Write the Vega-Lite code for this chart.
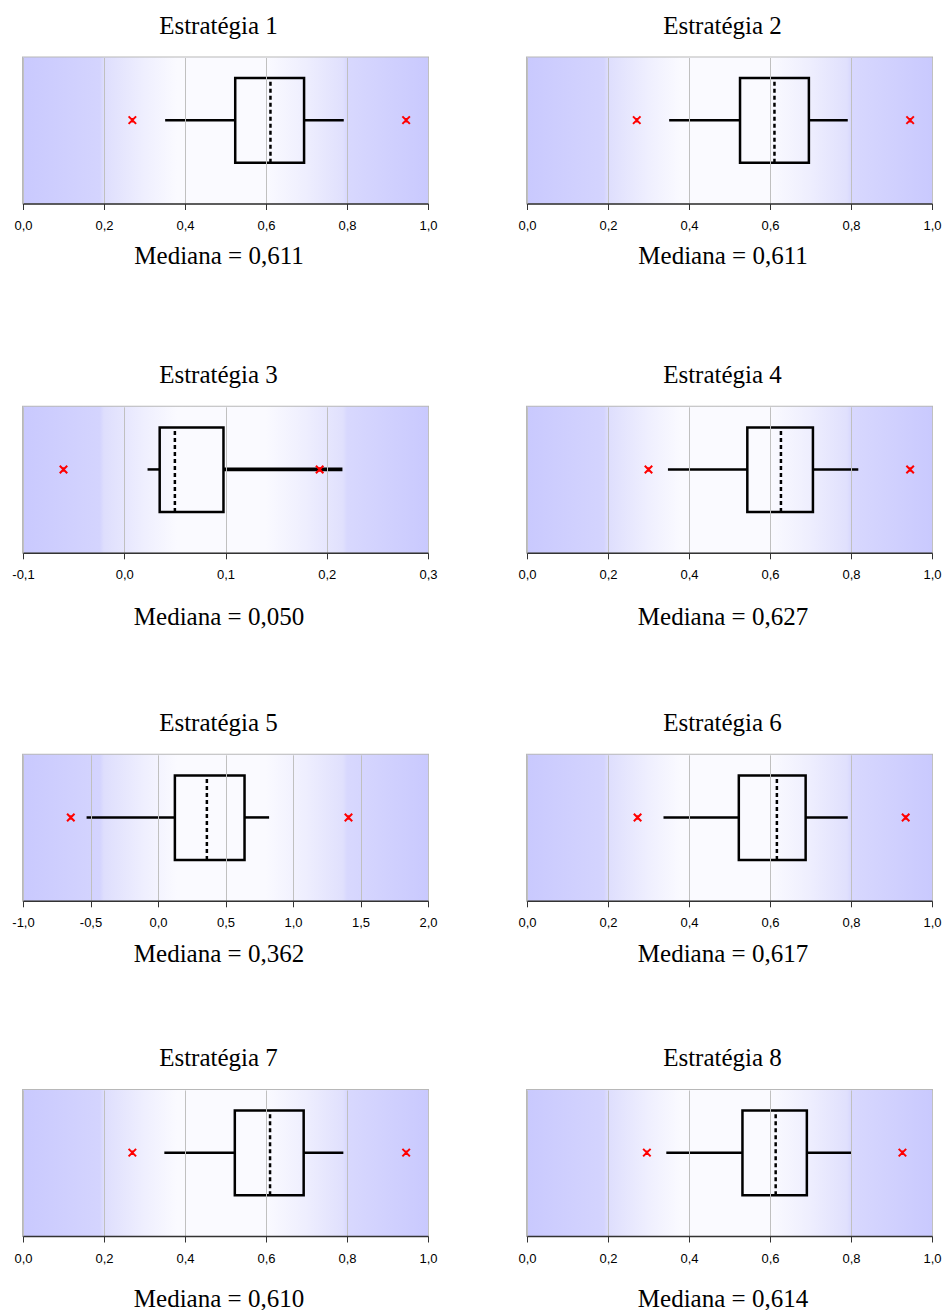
{
  "$schema": "https://vega.github.io/schema/vega-lite/v6.json",
  "padding": {"left": 10, "top": 12.5, "right": 0, "bottom": 0},
  "datasets": {
    "box": [
      {"p": 1, "lw": 0.351, "q1": 0.524, "med": 0.611, "q3": 0.694, "uw": 0.792},
      {"p": 2, "lw": 0.351, "q1": 0.526, "med": 0.611, "q3": 0.696, "uw": 0.792},
      {"p": 3, "lw": 0.023, "q1": 0.035, "med": 0.050, "q3": 0.098, "uw": 0.2155},
      {"p": 4, "lw": 0.348, "q1": 0.544, "med": 0.627, "q3": 0.706, "uw": 0.818},
      {"p": 5, "lw": -0.529, "q1": 0.125, "med": 0.362, "q3": 0.641, "uw": 0.823},
      {"p": 6, "lw": 0.337, "q1": 0.523, "med": 0.617, "q3": 0.688, "uw": 0.792},
      {"p": 7, "lw": 0.349, "q1": 0.523, "med": 0.610, "q3": 0.693, "uw": 0.791},
      {"p": 8, "lw": 0.344, "q1": 0.532, "med": 0.614, "q3": 0.691, "uw": 0.801}
    ],
    "out": [
      {"p": 1, "v": 0.270}, {"p": 1, "v": 0.946},
      {"p": 2, "v": 0.271}, {"p": 2, "v": 0.946},
      {"p": 3, "v": -0.060}, {"p": 3, "v": 0.193},
      {"p": 4, "v": 0.300}, {"p": 4, "v": 0.946},
      {"p": 5, "v": -0.646}, {"p": 5, "v": 1.411},
      {"p": 6, "v": 0.273}, {"p": 6, "v": 0.935},
      {"p": 7, "v": 0.270}, {"p": 7, "v": 0.946},
      {"p": 8, "v": 0.296}, {"p": 8, "v": 0.927}
    ]
  },
  "spacing": 77.5,
  "vconcat": [
    {
      "spacing": 78.3,
      "vconcat": [
        {
          "spacing": 92.3,
          "vconcat": [
            {
              "bounds": "flush",
              "spacing": 99,
              "hconcat": [
                {
                  "title": "Estratégia 1", "width": 405, "height": 146,
                  "data": {"name": "box"}, "transform": [{"filter": "datum.p == 1"}],
                  "layer": [
                    {"mark": {"type": "rect", "fill": {"gradient": "linear", "x1": 0, "y1": 0, "x2": 1, "y2": 0, "stops": [{"offset": 0, "color": "#c9c9fe"}, {"offset": 0.19, "color": "#d4d4fe"}, {"offset": 0.2, "color": "#dedefd"}, {"offset": 0.3, "color": "#efeffe"}, {"offset": 0.38, "color": "#fafaff"}, {"offset": 0.6, "color": "#fafaff"}, {"offset": 0.7, "color": "#eeeefe"}, {"offset": 0.79, "color": "#e0e0fd"}, {"offset": 0.8, "color": "#d8d8fe"}, {"offset": 1, "color": "#c9c9fe"}]}},
                     "encoding": {"x": {"datum": 0, "type": "quantitative", "scale": {"domain": [0, 1]}, "axis": {"values": [0, 0.2, 0.4, 0.6, 0.8, 1], "title": "Mediana = 0,611", "titleY": 59.5, "zindex": 1}}, "x2": {"datum": 1}, "y": {"datum": 0, "type": "quantitative", "scale": {"domain": [0, 1]}, "axis": null}, "y2": {"datum": 1}}},
                    {"mark": {"type": "rule", "stroke": "#000", "strokeWidth": 2.5}, "encoding": {"x": {"field": "lw", "type": "quantitative", "scale": {"domain": [0, 1]}, "axis": {"values": [0, 0.2, 0.4, 0.6, 0.8, 1], "title": "Mediana = 0,611", "titleY": 59.5, "zindex": 1}}, "x2": {"field": "q1"}, "y": {"datum": 0.571, "type": "quantitative", "scale": {"domain": [0, 1]}, "axis": null}}},
                    {"mark": {"type": "rule", "stroke": "#000", "strokeWidth": 2.5}, "encoding": {"x": {"field": "q3", "type": "quantitative", "scale": {"domain": [0, 1]}, "axis": {"values": [0, 0.2, 0.4, 0.6, 0.8, 1], "title": "Mediana = 0,611", "titleY": 59.5, "zindex": 1}}, "x2": {"field": "uw"}, "y": {"datum": 0.571, "type": "quantitative", "scale": {"domain": [0, 1]}, "axis": null}}},
                    {"mark": {"type": "rect", "fill": "transparent", "stroke": "#000", "strokeWidth": 2.5}, "encoding": {"x": {"field": "q1", "type": "quantitative", "scale": {"domain": [0, 1]}, "axis": {"values": [0, 0.2, 0.4, 0.6, 0.8, 1], "title": "Mediana = 0,611", "titleY": 59.5, "zindex": 1}}, "x2": {"field": "q3"}, "y": {"datum": 0.279, "type": "quantitative", "scale": {"domain": [0, 1]}, "axis": null}, "y2": {"datum": 0.859}}},
                    {"mark": {"type": "rule", "stroke": "#000", "strokeWidth": 2.5, "strokeDash": [4, 3]}, "encoding": {"x": {"field": "med", "type": "quantitative", "scale": {"domain": [0, 1]}, "axis": {"values": [0, 0.2, 0.4, 0.6, 0.8, 1], "title": "Mediana = 0,611", "titleY": 59.5, "zindex": 1}}, "y": {"datum": 0.279, "type": "quantitative", "scale": {"domain": [0, 1]}, "axis": null}, "y2": {"datum": 0.859}}},
                    {"data": {"name": "out"}, "transform": [{"filter": "datum.p == 1"}], "mark": {"type": "point", "shape": "M-1,-1L1,1M-1,1L1,-1M0,-0.6L0,0.6", "filled": false, "stroke": "#ff0000", "strokeWidth": 2, "size": 56, "opacity": 1}, "encoding": {"x": {"field": "v", "type": "quantitative", "scale": {"domain": [0, 1]}, "axis": {"values": [0, 0.2, 0.4, 0.6, 0.8, 1], "title": "Mediana = 0,611", "titleY": 59.5, "zindex": 1}}, "y": {"datum": 0.571, "type": "quantitative", "scale": {"domain": [0, 1]}, "axis": null}}}
                  ]
                },
                {
                  "title": "Estratégia 2", "width": 405, "height": 146,
                  "data": {"name": "box"}, "transform": [{"filter": "datum.p == 2"}],
                  "layer": [
                    {"mark": {"type": "rect", "fill": {"gradient": "linear", "x1": 0, "y1": 0, "x2": 1, "y2": 0, "stops": [{"offset": 0, "color": "#c9c9fe"}, {"offset": 0.19, "color": "#d4d4fe"}, {"offset": 0.2, "color": "#dedefd"}, {"offset": 0.3, "color": "#efeffe"}, {"offset": 0.38, "color": "#fafaff"}, {"offset": 0.6, "color": "#fafaff"}, {"offset": 0.7, "color": "#eeeefe"}, {"offset": 0.79, "color": "#e0e0fd"}, {"offset": 0.8, "color": "#d8d8fe"}, {"offset": 1, "color": "#c9c9fe"}]}},
                     "encoding": {"x": {"datum": 0, "type": "quantitative", "scale": {"domain": [0, 1]}, "axis": {"values": [0, 0.2, 0.4, 0.6, 0.8, 1], "title": "Mediana = 0,611", "titleY": 59.5, "zindex": 1}}, "x2": {"datum": 1}, "y": {"datum": 0, "type": "quantitative", "scale": {"domain": [0, 1]}, "axis": null}, "y2": {"datum": 1}}},
                    {"mark": {"type": "rule", "stroke": "#000", "strokeWidth": 2.5}, "encoding": {"x": {"field": "lw", "type": "quantitative", "scale": {"domain": [0, 1]}, "axis": {"values": [0, 0.2, 0.4, 0.6, 0.8, 1], "title": "Mediana = 0,611", "titleY": 59.5, "zindex": 1}}, "x2": {"field": "q1"}, "y": {"datum": 0.571, "type": "quantitative", "scale": {"domain": [0, 1]}, "axis": null}}},
                    {"mark": {"type": "rule", "stroke": "#000", "strokeWidth": 2.5}, "encoding": {"x": {"field": "q3", "type": "quantitative", "scale": {"domain": [0, 1]}, "axis": {"values": [0, 0.2, 0.4, 0.6, 0.8, 1], "title": "Mediana = 0,611", "titleY": 59.5, "zindex": 1}}, "x2": {"field": "uw"}, "y": {"datum": 0.571, "type": "quantitative", "scale": {"domain": [0, 1]}, "axis": null}}},
                    {"mark": {"type": "rect", "fill": "transparent", "stroke": "#000", "strokeWidth": 2.5}, "encoding": {"x": {"field": "q1", "type": "quantitative", "scale": {"domain": [0, 1]}, "axis": {"values": [0, 0.2, 0.4, 0.6, 0.8, 1], "title": "Mediana = 0,611", "titleY": 59.5, "zindex": 1}}, "x2": {"field": "q3"}, "y": {"datum": 0.279, "type": "quantitative", "scale": {"domain": [0, 1]}, "axis": null}, "y2": {"datum": 0.859}}},
                    {"mark": {"type": "rule", "stroke": "#000", "strokeWidth": 2.5, "strokeDash": [4, 3]}, "encoding": {"x": {"field": "med", "type": "quantitative", "scale": {"domain": [0, 1]}, "axis": {"values": [0, 0.2, 0.4, 0.6, 0.8, 1], "title": "Mediana = 0,611", "titleY": 59.5, "zindex": 1}}, "y": {"datum": 0.279, "type": "quantitative", "scale": {"domain": [0, 1]}, "axis": null}, "y2": {"datum": 0.859}}},
                    {"data": {"name": "out"}, "transform": [{"filter": "datum.p == 2"}], "mark": {"type": "point", "shape": "M-1,-1L1,1M-1,1L1,-1M0,-0.6L0,0.6", "filled": false, "stroke": "#ff0000", "strokeWidth": 2, "size": 56, "opacity": 1}, "encoding": {"x": {"field": "v", "type": "quantitative", "scale": {"domain": [0, 1]}, "axis": {"values": [0, 0.2, 0.4, 0.6, 0.8, 1], "title": "Mediana = 0,611", "titleY": 59.5, "zindex": 1}}, "y": {"datum": 0.571, "type": "quantitative", "scale": {"domain": [0, 1]}, "axis": null}}}
                  ]
                }
              ]
            },
            {
              "bounds": "flush",
              "spacing": 99,
              "hconcat": [
                {
                  "title": "Estratégia 3", "width": 405, "height": 146,
                  "data": {"name": "box"}, "transform": [{"filter": "datum.p == 3"}],
                  "layer": [
                    {"mark": {"type": "rect", "fill": {"gradient": "linear", "x1": 0, "y1": 0, "x2": 1, "y2": 0, "stops": [{"offset": 0, "color": "#c9c9fe"}, {"offset": 0.19, "color": "#d4d4fe"}, {"offset": 0.2, "color": "#dedefd"}, {"offset": 0.3, "color": "#efeffe"}, {"offset": 0.38, "color": "#fafaff"}, {"offset": 0.6, "color": "#fafaff"}, {"offset": 0.7, "color": "#eeeefe"}, {"offset": 0.79, "color": "#e0e0fd"}, {"offset": 0.8, "color": "#d8d8fe"}, {"offset": 1, "color": "#c9c9fe"}]}},
                     "encoding": {"x": {"datum": -0.1, "type": "quantitative", "scale": {"domain": [-0.1, 0.3]}, "axis": {"values": [-0.1, 0, 0.1, 0.2, 0.3], "title": "Mediana = 0,050", "titleY": 72, "zindex": 1}}, "x2": {"datum": 0.3}, "y": {"datum": 0, "type": "quantitative", "scale": {"domain": [0, 1]}, "axis": null}, "y2": {"datum": 1}}},
                    {"mark": {"type": "rule", "stroke": "#000", "strokeWidth": 2.5}, "encoding": {"x": {"field": "lw", "type": "quantitative", "scale": {"domain": [-0.1, 0.3]}, "axis": {"values": [-0.1, 0, 0.1, 0.2, 0.3], "title": "Mediana = 0,050", "titleY": 72, "zindex": 1}}, "x2": {"field": "q1"}, "y": {"datum": 0.571, "type": "quantitative", "scale": {"domain": [0, 1]}, "axis": null}}},
                    {"mark": {"type": "rule", "stroke": "#000", "strokeWidth": 3.8}, "encoding": {"x": {"field": "q3", "type": "quantitative", "scale": {"domain": [-0.1, 0.3]}, "axis": {"values": [-0.1, 0, 0.1, 0.2, 0.3], "title": "Mediana = 0,050", "titleY": 72, "zindex": 1}}, "x2": {"field": "uw"}, "y": {"datum": 0.571, "type": "quantitative", "scale": {"domain": [0, 1]}, "axis": null}}},
                    {"mark": {"type": "rect", "fill": "transparent", "stroke": "#000", "strokeWidth": 2.5}, "encoding": {"x": {"field": "q1", "type": "quantitative", "scale": {"domain": [-0.1, 0.3]}, "axis": {"values": [-0.1, 0, 0.1, 0.2, 0.3], "title": "Mediana = 0,050", "titleY": 72, "zindex": 1}}, "x2": {"field": "q3"}, "y": {"datum": 0.279, "type": "quantitative", "scale": {"domain": [0, 1]}, "axis": null}, "y2": {"datum": 0.859}}},
                    {"mark": {"type": "rule", "stroke": "#000", "strokeWidth": 2.5, "strokeDash": [4, 3]}, "encoding": {"x": {"field": "med", "type": "quantitative", "scale": {"domain": [-0.1, 0.3]}, "axis": {"values": [-0.1, 0, 0.1, 0.2, 0.3], "title": "Mediana = 0,050", "titleY": 72, "zindex": 1}}, "y": {"datum": 0.279, "type": "quantitative", "scale": {"domain": [0, 1]}, "axis": null}, "y2": {"datum": 0.859}}},
                    {"data": {"name": "out"}, "transform": [{"filter": "datum.p == 3"}], "mark": {"type": "point", "shape": "M-1,-1L1,1M-1,1L1,-1M0,-0.6L0,0.6", "filled": false, "stroke": "#ff0000", "strokeWidth": 2, "size": 56, "opacity": 1}, "encoding": {"x": {"field": "v", "type": "quantitative", "scale": {"domain": [-0.1, 0.3]}, "axis": {"values": [-0.1, 0, 0.1, 0.2, 0.3], "title": "Mediana = 0,050", "titleY": 72, "zindex": 1}}, "y": {"datum": 0.571, "type": "quantitative", "scale": {"domain": [0, 1]}, "axis": null}}}
                  ]
                },
                {
                  "title": "Estratégia 4", "width": 405, "height": 146,
                  "data": {"name": "box"}, "transform": [{"filter": "datum.p == 4"}],
                  "layer": [
                    {"mark": {"type": "rect", "fill": {"gradient": "linear", "x1": 0, "y1": 0, "x2": 1, "y2": 0, "stops": [{"offset": 0, "color": "#c9c9fe"}, {"offset": 0.19, "color": "#d4d4fe"}, {"offset": 0.2, "color": "#dedefd"}, {"offset": 0.3, "color": "#efeffe"}, {"offset": 0.38, "color": "#fafaff"}, {"offset": 0.6, "color": "#fafaff"}, {"offset": 0.7, "color": "#eeeefe"}, {"offset": 0.79, "color": "#e0e0fd"}, {"offset": 0.8, "color": "#d8d8fe"}, {"offset": 1, "color": "#c9c9fe"}]}},
                     "encoding": {"x": {"datum": 0, "type": "quantitative", "scale": {"domain": [0, 1]}, "axis": {"values": [0, 0.2, 0.4, 0.6, 0.8, 1], "title": "Mediana = 0,627", "titleY": 72, "zindex": 1}}, "x2": {"datum": 1}, "y": {"datum": 0, "type": "quantitative", "scale": {"domain": [0, 1]}, "axis": null}, "y2": {"datum": 1}}},
                    {"mark": {"type": "rule", "stroke": "#000", "strokeWidth": 2.5}, "encoding": {"x": {"field": "lw", "type": "quantitative", "scale": {"domain": [0, 1]}, "axis": {"values": [0, 0.2, 0.4, 0.6, 0.8, 1], "title": "Mediana = 0,627", "titleY": 72, "zindex": 1}}, "x2": {"field": "q1"}, "y": {"datum": 0.571, "type": "quantitative", "scale": {"domain": [0, 1]}, "axis": null}}},
                    {"mark": {"type": "rule", "stroke": "#000", "strokeWidth": 2.5}, "encoding": {"x": {"field": "q3", "type": "quantitative", "scale": {"domain": [0, 1]}, "axis": {"values": [0, 0.2, 0.4, 0.6, 0.8, 1], "title": "Mediana = 0,627", "titleY": 72, "zindex": 1}}, "x2": {"field": "uw"}, "y": {"datum": 0.571, "type": "quantitative", "scale": {"domain": [0, 1]}, "axis": null}}},
                    {"mark": {"type": "rect", "fill": "transparent", "stroke": "#000", "strokeWidth": 2.5}, "encoding": {"x": {"field": "q1", "type": "quantitative", "scale": {"domain": [0, 1]}, "axis": {"values": [0, 0.2, 0.4, 0.6, 0.8, 1], "title": "Mediana = 0,627", "titleY": 72, "zindex": 1}}, "x2": {"field": "q3"}, "y": {"datum": 0.279, "type": "quantitative", "scale": {"domain": [0, 1]}, "axis": null}, "y2": {"datum": 0.859}}},
                    {"mark": {"type": "rule", "stroke": "#000", "strokeWidth": 2.5, "strokeDash": [4, 3]}, "encoding": {"x": {"field": "med", "type": "quantitative", "scale": {"domain": [0, 1]}, "axis": {"values": [0, 0.2, 0.4, 0.6, 0.8, 1], "title": "Mediana = 0,627", "titleY": 72, "zindex": 1}}, "y": {"datum": 0.279, "type": "quantitative", "scale": {"domain": [0, 1]}, "axis": null}, "y2": {"datum": 0.859}}},
                    {"data": {"name": "out"}, "transform": [{"filter": "datum.p == 4"}], "mark": {"type": "point", "shape": "M-1,-1L1,1M-1,1L1,-1M0,-0.6L0,0.6", "filled": false, "stroke": "#ff0000", "strokeWidth": 2, "size": 56, "opacity": 1}, "encoding": {"x": {"field": "v", "type": "quantitative", "scale": {"domain": [0, 1]}, "axis": {"values": [0, 0.2, 0.4, 0.6, 0.8, 1], "title": "Mediana = 0,627", "titleY": 72, "zindex": 1}}, "y": {"datum": 0.571, "type": "quantitative", "scale": {"domain": [0, 1]}, "axis": null}}}
                  ]
                }
              ]
            }
          ]
        },
        {
          "bounds": "flush",
          "spacing": 99,
          "hconcat": [
            {
              "title": "Estratégia 5", "width": 405, "height": 146,
              "data": {"name": "box"}, "transform": [{"filter": "datum.p == 5"}],
              "layer": [
                {"mark": {"type": "rect", "fill": {"gradient": "linear", "x1": 0, "y1": 0, "x2": 1, "y2": 0, "stops": [{"offset": 0, "color": "#c9c9fe"}, {"offset": 0.19, "color": "#d4d4fe"}, {"offset": 0.2, "color": "#dedefd"}, {"offset": 0.3, "color": "#efeffe"}, {"offset": 0.38, "color": "#fafaff"}, {"offset": 0.6, "color": "#fafaff"}, {"offset": 0.7, "color": "#eeeefe"}, {"offset": 0.79, "color": "#e0e0fd"}, {"offset": 0.8, "color": "#d8d8fe"}, {"offset": 1, "color": "#c9c9fe"}]}},
                 "encoding": {"x": {"datum": -1, "type": "quantitative", "scale": {"domain": [-1, 2]}, "axis": {"values": [-1, -0.5, 0, 0.5, 1, 1.5, 2], "title": "Mediana = 0,362", "titleY": 60.5, "zindex": 1}}, "x2": {"datum": 2}, "y": {"datum": 0, "type": "quantitative", "scale": {"domain": [0, 1]}, "axis": null}, "y2": {"datum": 1}}},
                {"mark": {"type": "rule", "stroke": "#000", "strokeWidth": 2.5}, "encoding": {"x": {"field": "lw", "type": "quantitative", "scale": {"domain": [-1, 2]}, "axis": {"values": [-1, -0.5, 0, 0.5, 1, 1.5, 2], "title": "Mediana = 0,362", "titleY": 60.5, "zindex": 1}}, "x2": {"field": "q1"}, "y": {"datum": 0.571, "type": "quantitative", "scale": {"domain": [0, 1]}, "axis": null}}},
                {"mark": {"type": "rule", "stroke": "#000", "strokeWidth": 2.5}, "encoding": {"x": {"field": "q3", "type": "quantitative", "scale": {"domain": [-1, 2]}, "axis": {"values": [-1, -0.5, 0, 0.5, 1, 1.5, 2], "title": "Mediana = 0,362", "titleY": 60.5, "zindex": 1}}, "x2": {"field": "uw"}, "y": {"datum": 0.571, "type": "quantitative", "scale": {"domain": [0, 1]}, "axis": null}}},
                {"mark": {"type": "rect", "fill": "transparent", "stroke": "#000", "strokeWidth": 2.5}, "encoding": {"x": {"field": "q1", "type": "quantitative", "scale": {"domain": [-1, 2]}, "axis": {"values": [-1, -0.5, 0, 0.5, 1, 1.5, 2], "title": "Mediana = 0,362", "titleY": 60.5, "zindex": 1}}, "x2": {"field": "q3"}, "y": {"datum": 0.279, "type": "quantitative", "scale": {"domain": [0, 1]}, "axis": null}, "y2": {"datum": 0.859}}},
                {"mark": {"type": "rule", "stroke": "#000", "strokeWidth": 2.5, "strokeDash": [4, 3]}, "encoding": {"x": {"field": "med", "type": "quantitative", "scale": {"domain": [-1, 2]}, "axis": {"values": [-1, -0.5, 0, 0.5, 1, 1.5, 2], "title": "Mediana = 0,362", "titleY": 60.5, "zindex": 1}}, "y": {"datum": 0.279, "type": "quantitative", "scale": {"domain": [0, 1]}, "axis": null}, "y2": {"datum": 0.859}}},
                {"data": {"name": "out"}, "transform": [{"filter": "datum.p == 5"}], "mark": {"type": "point", "shape": "M-1,-1L1,1M-1,1L1,-1M0,-0.6L0,0.6", "filled": false, "stroke": "#ff0000", "strokeWidth": 2, "size": 56, "opacity": 1}, "encoding": {"x": {"field": "v", "type": "quantitative", "scale": {"domain": [-1, 2]}, "axis": {"values": [-1, -0.5, 0, 0.5, 1, 1.5, 2], "title": "Mediana = 0,362", "titleY": 60.5, "zindex": 1}}, "y": {"datum": 0.571, "type": "quantitative", "scale": {"domain": [0, 1]}, "axis": null}}}
              ]
            },
            {
              "title": "Estratégia 6", "width": 405, "height": 146,
              "data": {"name": "box"}, "transform": [{"filter": "datum.p == 6"}],
              "layer": [
                {"mark": {"type": "rect", "fill": {"gradient": "linear", "x1": 0, "y1": 0, "x2": 1, "y2": 0, "stops": [{"offset": 0, "color": "#c9c9fe"}, {"offset": 0.19, "color": "#d4d4fe"}, {"offset": 0.2, "color": "#dedefd"}, {"offset": 0.3, "color": "#efeffe"}, {"offset": 0.38, "color": "#fafaff"}, {"offset": 0.6, "color": "#fafaff"}, {"offset": 0.7, "color": "#eeeefe"}, {"offset": 0.79, "color": "#e0e0fd"}, {"offset": 0.8, "color": "#d8d8fe"}, {"offset": 1, "color": "#c9c9fe"}]}},
                 "encoding": {"x": {"datum": 0, "type": "quantitative", "scale": {"domain": [0, 1]}, "axis": {"values": [0, 0.2, 0.4, 0.6, 0.8, 1], "title": "Mediana = 0,617", "titleY": 60.5, "zindex": 1}}, "x2": {"datum": 1}, "y": {"datum": 0, "type": "quantitative", "scale": {"domain": [0, 1]}, "axis": null}, "y2": {"datum": 1}}},
                {"mark": {"type": "rule", "stroke": "#000", "strokeWidth": 2.5}, "encoding": {"x": {"field": "lw", "type": "quantitative", "scale": {"domain": [0, 1]}, "axis": {"values": [0, 0.2, 0.4, 0.6, 0.8, 1], "title": "Mediana = 0,617", "titleY": 60.5, "zindex": 1}}, "x2": {"field": "q1"}, "y": {"datum": 0.571, "type": "quantitative", "scale": {"domain": [0, 1]}, "axis": null}}},
                {"mark": {"type": "rule", "stroke": "#000", "strokeWidth": 2.5}, "encoding": {"x": {"field": "q3", "type": "quantitative", "scale": {"domain": [0, 1]}, "axis": {"values": [0, 0.2, 0.4, 0.6, 0.8, 1], "title": "Mediana = 0,617", "titleY": 60.5, "zindex": 1}}, "x2": {"field": "uw"}, "y": {"datum": 0.571, "type": "quantitative", "scale": {"domain": [0, 1]}, "axis": null}}},
                {"mark": {"type": "rect", "fill": "transparent", "stroke": "#000", "strokeWidth": 2.5}, "encoding": {"x": {"field": "q1", "type": "quantitative", "scale": {"domain": [0, 1]}, "axis": {"values": [0, 0.2, 0.4, 0.6, 0.8, 1], "title": "Mediana = 0,617", "titleY": 60.5, "zindex": 1}}, "x2": {"field": "q3"}, "y": {"datum": 0.279, "type": "quantitative", "scale": {"domain": [0, 1]}, "axis": null}, "y2": {"datum": 0.859}}},
                {"mark": {"type": "rule", "stroke": "#000", "strokeWidth": 2.5, "strokeDash": [4, 3]}, "encoding": {"x": {"field": "med", "type": "quantitative", "scale": {"domain": [0, 1]}, "axis": {"values": [0, 0.2, 0.4, 0.6, 0.8, 1], "title": "Mediana = 0,617", "titleY": 60.5, "zindex": 1}}, "y": {"datum": 0.279, "type": "quantitative", "scale": {"domain": [0, 1]}, "axis": null}, "y2": {"datum": 0.859}}},
                {"data": {"name": "out"}, "transform": [{"filter": "datum.p == 6"}], "mark": {"type": "point", "shape": "M-1,-1L1,1M-1,1L1,-1M0,-0.6L0,0.6", "filled": false, "stroke": "#ff0000", "strokeWidth": 2, "size": 56, "opacity": 1}, "encoding": {"x": {"field": "v", "type": "quantitative", "scale": {"domain": [0, 1]}, "axis": {"values": [0, 0.2, 0.4, 0.6, 0.8, 1], "title": "Mediana = 0,617", "titleY": 60.5, "zindex": 1}}, "y": {"datum": 0.571, "type": "quantitative", "scale": {"domain": [0, 1]}, "axis": null}}}
              ]
            }
          ]
        }
      ]
    },
    {
      "bounds": "flush",
      "spacing": 99,
      "hconcat": [
        {
          "title": "Estratégia 7", "width": 405, "height": 146,
          "data": {"name": "box"}, "transform": [{"filter": "datum.p == 7"}],
          "layer": [
            {"mark": {"type": "rect", "fill": {"gradient": "linear", "x1": 0, "y1": 0, "x2": 1, "y2": 0, "stops": [{"offset": 0, "color": "#c9c9fe"}, {"offset": 0.19, "color": "#d4d4fe"}, {"offset": 0.2, "color": "#dedefd"}, {"offset": 0.3, "color": "#efeffe"}, {"offset": 0.38, "color": "#fafaff"}, {"offset": 0.6, "color": "#fafaff"}, {"offset": 0.7, "color": "#eeeefe"}, {"offset": 0.79, "color": "#e0e0fd"}, {"offset": 0.8, "color": "#d8d8fe"}, {"offset": 1, "color": "#c9c9fe"}]}},
             "encoding": {"x": {"datum": 0, "type": "quantitative", "scale": {"domain": [0, 1]}, "axis": {"values": [0, 0.2, 0.4, 0.6, 0.8, 1], "title": "Mediana = 0,610", "titleY": 70, "zindex": 1}}, "x2": {"datum": 1}, "y": {"datum": 0, "type": "quantitative", "scale": {"domain": [0, 1]}, "axis": null}, "y2": {"datum": 1}}},
            {"mark": {"type": "rule", "stroke": "#000", "strokeWidth": 2.5}, "encoding": {"x": {"field": "lw", "type": "quantitative", "scale": {"domain": [0, 1]}, "axis": {"values": [0, 0.2, 0.4, 0.6, 0.8, 1], "title": "Mediana = 0,610", "titleY": 70, "zindex": 1}}, "x2": {"field": "q1"}, "y": {"datum": 0.571, "type": "quantitative", "scale": {"domain": [0, 1]}, "axis": null}}},
            {"mark": {"type": "rule", "stroke": "#000", "strokeWidth": 2.5}, "encoding": {"x": {"field": "q3", "type": "quantitative", "scale": {"domain": [0, 1]}, "axis": {"values": [0, 0.2, 0.4, 0.6, 0.8, 1], "title": "Mediana = 0,610", "titleY": 70, "zindex": 1}}, "x2": {"field": "uw"}, "y": {"datum": 0.571, "type": "quantitative", "scale": {"domain": [0, 1]}, "axis": null}}},
            {"mark": {"type": "rect", "fill": "transparent", "stroke": "#000", "strokeWidth": 2.5}, "encoding": {"x": {"field": "q1", "type": "quantitative", "scale": {"domain": [0, 1]}, "axis": {"values": [0, 0.2, 0.4, 0.6, 0.8, 1], "title": "Mediana = 0,610", "titleY": 70, "zindex": 1}}, "x2": {"field": "q3"}, "y": {"datum": 0.279, "type": "quantitative", "scale": {"domain": [0, 1]}, "axis": null}, "y2": {"datum": 0.859}}},
            {"mark": {"type": "rule", "stroke": "#000", "strokeWidth": 2.5, "strokeDash": [4, 3]}, "encoding": {"x": {"field": "med", "type": "quantitative", "scale": {"domain": [0, 1]}, "axis": {"values": [0, 0.2, 0.4, 0.6, 0.8, 1], "title": "Mediana = 0,610", "titleY": 70, "zindex": 1}}, "y": {"datum": 0.279, "type": "quantitative", "scale": {"domain": [0, 1]}, "axis": null}, "y2": {"datum": 0.859}}},
            {"data": {"name": "out"}, "transform": [{"filter": "datum.p == 7"}], "mark": {"type": "point", "shape": "M-1,-1L1,1M-1,1L1,-1M0,-0.6L0,0.6", "filled": false, "stroke": "#ff0000", "strokeWidth": 2, "size": 56, "opacity": 1}, "encoding": {"x": {"field": "v", "type": "quantitative", "scale": {"domain": [0, 1]}, "axis": {"values": [0, 0.2, 0.4, 0.6, 0.8, 1], "title": "Mediana = 0,610", "titleY": 70, "zindex": 1}}, "y": {"datum": 0.571, "type": "quantitative", "scale": {"domain": [0, 1]}, "axis": null}}}
          ]
        },
        {
          "title": "Estratégia 8", "width": 405, "height": 146,
          "data": {"name": "box"}, "transform": [{"filter": "datum.p == 8"}],
          "layer": [
            {"mark": {"type": "rect", "fill": {"gradient": "linear", "x1": 0, "y1": 0, "x2": 1, "y2": 0, "stops": [{"offset": 0, "color": "#c9c9fe"}, {"offset": 0.19, "color": "#d4d4fe"}, {"offset": 0.2, "color": "#dedefd"}, {"offset": 0.3, "color": "#efeffe"}, {"offset": 0.38, "color": "#fafaff"}, {"offset": 0.6, "color": "#fafaff"}, {"offset": 0.7, "color": "#eeeefe"}, {"offset": 0.79, "color": "#e0e0fd"}, {"offset": 0.8, "color": "#d8d8fe"}, {"offset": 1, "color": "#c9c9fe"}]}},
             "encoding": {"x": {"datum": 0, "type": "quantitative", "scale": {"domain": [0, 1]}, "axis": {"values": [0, 0.2, 0.4, 0.6, 0.8, 1], "title": "Mediana = 0,614", "titleY": 70, "zindex": 1}}, "x2": {"datum": 1}, "y": {"datum": 0, "type": "quantitative", "scale": {"domain": [0, 1]}, "axis": null}, "y2": {"datum": 1}}},
            {"mark": {"type": "rule", "stroke": "#000", "strokeWidth": 2.5}, "encoding": {"x": {"field": "lw", "type": "quantitative", "scale": {"domain": [0, 1]}, "axis": {"values": [0, 0.2, 0.4, 0.6, 0.8, 1], "title": "Mediana = 0,614", "titleY": 70, "zindex": 1}}, "x2": {"field": "q1"}, "y": {"datum": 0.571, "type": "quantitative", "scale": {"domain": [0, 1]}, "axis": null}}},
            {"mark": {"type": "rule", "stroke": "#000", "strokeWidth": 2.5}, "encoding": {"x": {"field": "q3", "type": "quantitative", "scale": {"domain": [0, 1]}, "axis": {"values": [0, 0.2, 0.4, 0.6, 0.8, 1], "title": "Mediana = 0,614", "titleY": 70, "zindex": 1}}, "x2": {"field": "uw"}, "y": {"datum": 0.571, "type": "quantitative", "scale": {"domain": [0, 1]}, "axis": null}}},
            {"mark": {"type": "rect", "fill": "transparent", "stroke": "#000", "strokeWidth": 2.5}, "encoding": {"x": {"field": "q1", "type": "quantitative", "scale": {"domain": [0, 1]}, "axis": {"values": [0, 0.2, 0.4, 0.6, 0.8, 1], "title": "Mediana = 0,614", "titleY": 70, "zindex": 1}}, "x2": {"field": "q3"}, "y": {"datum": 0.279, "type": "quantitative", "scale": {"domain": [0, 1]}, "axis": null}, "y2": {"datum": 0.859}}},
            {"mark": {"type": "rule", "stroke": "#000", "strokeWidth": 2.5, "strokeDash": [4, 3]}, "encoding": {"x": {"field": "med", "type": "quantitative", "scale": {"domain": [0, 1]}, "axis": {"values": [0, 0.2, 0.4, 0.6, 0.8, 1], "title": "Mediana = 0,614", "titleY": 70, "zindex": 1}}, "y": {"datum": 0.279, "type": "quantitative", "scale": {"domain": [0, 1]}, "axis": null}, "y2": {"datum": 0.859}}},
            {"data": {"name": "out"}, "transform": [{"filter": "datum.p == 8"}], "mark": {"type": "point", "shape": "M-1,-1L1,1M-1,1L1,-1M0,-0.6L0,0.6", "filled": false, "stroke": "#ff0000", "strokeWidth": 2, "size": 56, "opacity": 1}, "encoding": {"x": {"field": "v", "type": "quantitative", "scale": {"domain": [0, 1]}, "axis": {"values": [0, 0.2, 0.4, 0.6, 0.8, 1], "title": "Mediana = 0,614", "titleY": 70, "zindex": 1}}, "y": {"datum": 0.571, "type": "quantitative", "scale": {"domain": [0, 1]}, "axis": null}}}
          ]
        }
      ]
    }
  ],
  "config": {
    "locale": {"number": {"decimal": ",", "thousands": ".", "grouping": [3], "currency": ["", ""], "minus": "-"}},
    "view": {"stroke": "#b8b8b8", "strokeWidth": 2},
    "axisX": {
      "format": ".1f", "grid": true, "gridColor": "#c0c0c0", "gridWidth": 1, "gridOpacity": 1,
      "domainColor": "#333333", "domainWidth": 1.5, "tickColor": "#333333", "tickSize": 6, "tickWidth": 1,
      "labelFont": "Liberation Sans", "labelFontSize": 13, "labelColor": "#000000", "labelPadding": 20,
      "labelBaseline": "alphabetic", "labelFlush": false, "labelOverlap": false,
      "titleFont": "Liberation Serif", "titleFontSize": 25, "titleFontWeight": "normal", "titleColor": "#000000",
      "titleX": 195.5, "titleAlign": "center", "titleBaseline": "alphabetic"
    },
    "title": {"font": "Liberation Serif", "fontSize": 25, "fontWeight": "normal", "color": "#000000", "baseline": "alphabetic", "offset": 19, "dx": -7, "anchor": "middle", "frame": "group"}
  }
}
